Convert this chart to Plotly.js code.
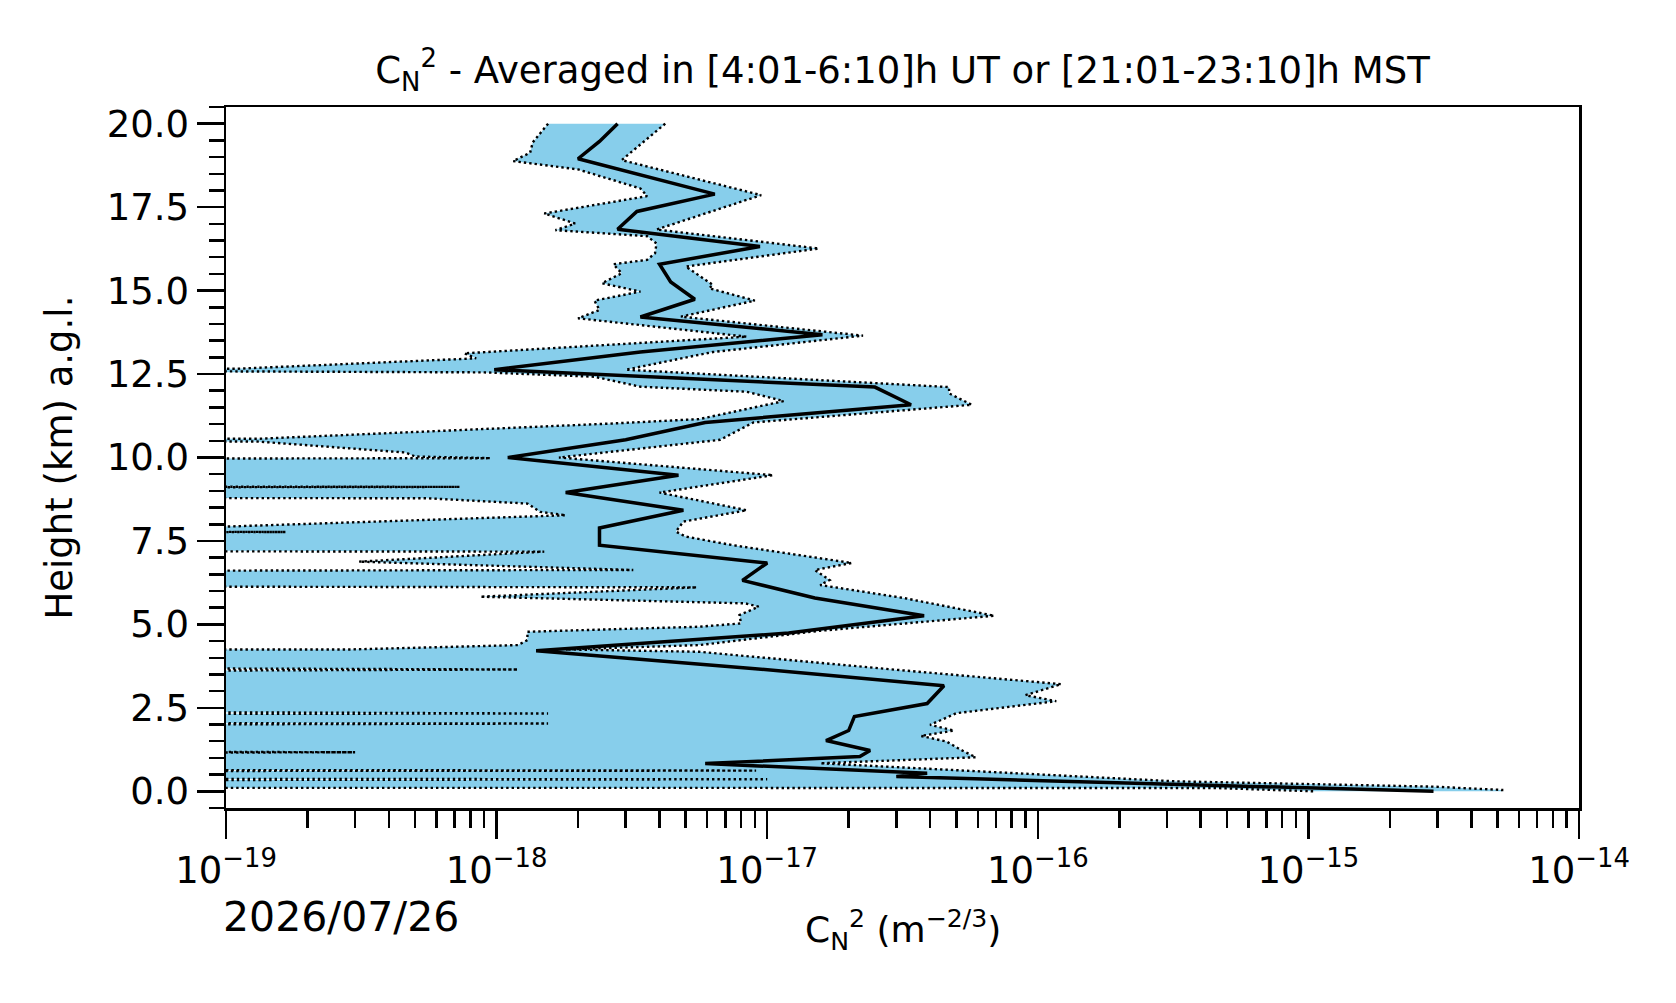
<!DOCTYPE html>
<html>
<head>
<meta charset="utf-8">
<script src="https://cdn.plot.ly/plotly-3.0.1.min.js"></script>
<style>
  html, body { margin: 0; padding: 0; background: #fff; }
  #chart { width: 1676px; height: 1003px; }
</style>
</head>
<body>
<div id="chart"></div>
<script>
// Cn2 profile: median plus lower/upper envelope.
// Heights in km a.g.l., Cn2 in m^-2/3. A lower value of 0 is a non-positive
// bound; it gets clipped to a tiny number like matplotlib's log axis does.

const H_MED = [20.0, 19.47, 18.95, 18.42, 17.89, 17.37, 16.84, 16.32, 15.79, 15.26,
  14.74, 14.21, 13.68, 13.16, 12.63, 12.11, 11.58, 11.05, 10.53, 10.0,
  9.47, 8.95, 8.42, 7.89, 7.37, 6.84, 6.32, 5.79, 5.26, 4.74,
  4.21, 3.68, 3.16, 2.63, 2.24, 1.82, 1.52, 1.22, 1.04, 0.83,
  0.54, 0.44, 0.0];
const C_MED = [2.8e-18, 2.4e-18, 2.0e-18, 3.6e-18, 6.4e-18, 3.3e-18, 2.8e-18, 9.4e-18, 4.0e-18, 4.4e-18,
  5.4e-18, 3.4e-18, 1.6e-17, 3.4e-18, 9.8e-19, 2.5e-17, 3.4e-17, 5.9e-18, 3.0e-18, 1.1e-18,
  4.7e-18, 1.8e-18, 4.9e-18, 2.4e-18, 2.4e-18, 1.0e-17, 8.1e-18, 1.5e-17, 3.8e-17, 1.2e-17,
  1.4e-18, 8.8e-18, 4.5e-17, 3.9e-17, 2.1e-17, 2.0e-17, 1.65e-17, 2.4e-17, 2.2e-17, 5.9e-18,
  3.9e-17, 3.0e-17, 2.9e-15];

const H_LOW = [20.0, 19.44, 19.13, 18.88, 18.63, 18.06, 17.83, 17.31, 17.01, 16.81,
  16.63, 16.41, 16.12, 15.92, 15.79, 15.52, 15.22, 14.97, 14.70, 14.42,
  14.17, 13.62, 13.12, 12.97, 12.66, 12.63, 12.58, 12.55, 12.42, 12.12,
  11.97, 11.69, 11.15, 11.02, 10.56, 10.52, 10.48, 10.15, 10.03, 9.98, 9.75,
  9.27, 9.12, 9.0, 8.88, 8.78, 8.62, 8.37, 8.27, 7.93, 7.88,
  7.77, 7.70, 7.33, 7.18, 6.88, 6.63, 6.35, 6.11, 5.83, 5.63,
  5.53, 5.28, 5.03, 4.93, 4.78, 4.53, 4.38, 4.25, 4.22, 3.65,
  3.0, 2.33, 2.18, 2.03, 1.6, 1.17, 0.8, 0.62, 0.5, 0.36,
  0.12, 0.10, 0.0];
const C_LOW = [1.55e-18, 1.36e-18, 1.33e-18, 1.15e-18, 2.0e-18, 3.4e-18, 3.6e-18, 1.5e-18, 1.95e-18, 1.65e-18,
  3.6e-18, 3.9e-18, 3.85e-18, 3.6e-18, 2.7e-18, 2.9e-18, 2.45e-18, 3.4e-18, 2.3e-18, 2.4e-18,
  2.0e-18, 8.4e-18, 7.6e-19, 8.4e-19, 1.1e-19, 0, 1.0e-19, 9.0e-19, 2.3e-18, 3.4e-18,
  8.4e-18, 1.15e-17, 5.6e-18, 2.7e-18, 1.3e-19, 0, 1.3e-19, 4.6e-19, 5.0e-19, 9.5e-19, 0,
  0, 7.3e-19, 0, 0, 5.5e-19, 1.3e-18, 1.45e-18, 1.8e-18, 1.0e-19, 0,
  1.66e-19, 0, 0, 1.5e-18, 3.1e-19, 3.2e-18, 0, 5.5e-18, 8.7e-19, 8.3e-18,
  9.3e-18, 7.9e-18, 8.0e-18, 5.6e-18, 1.3e-18, 1.3e-18, 1.2e-18, 2.9e-19, 0, 1.2e-18,
  0, 1.55e-18, 0, 1.55e-18, 0, 3.0e-19, 0, 9.1e-18, 0, 1.0e-17,
  0, 4.5e-16, 1.05e-15];

const H_UP = [20.0, 18.91, 17.86, 16.83, 16.26, 15.72, 15.17, 15.07, 14.70, 14.22,
  13.65, 13.16, 12.63, 12.11, 11.92, 11.58, 11.05, 10.53, 10.0, 9.47,
  8.95, 8.42, 8.08, 7.78, 7.63, 7.37, 6.84, 6.63, 6.33, 6.18,
  5.79, 5.26, 4.81, 4.38, 4.25, 4.18, 3.63, 3.21, 2.88, 2.70,
  2.34, 1.99, 1.82, 1.66, 1.49, 1.24, 1.02, 0.84, 0.56, 0.30,
  0.14, 0.04, 0.0];
const C_UP = [4.2e-18, 2.9e-18, 9.5e-18, 3.9e-18, 1.55e-17, 5.0e-18, 6.3e-18, 6.1e-18, 9.0e-18, 4.8e-18,
  2.26e-17, 6.3e-18, 3.0e-18, 4.7e-17, 4.7e-17, 5.7e-17, 8.9e-18, 6.7e-18, 1.7e-18, 1.05e-17,
  4.0e-18, 8.4e-18, 4.9e-18, 4.6e-18, 5.0e-18, 7.5e-18, 2.05e-17, 1.5e-17, 1.7e-17, 1.57e-17,
  3.2e-17, 6.9e-17, 1.57e-17, 5.6e-18, 1.8e-18, 5.6e-18, 3.1e-17, 1.22e-16, 9.0e-17, 1.17e-16,
  5.0e-17, 4.0e-17, 4.9e-17, 3.7e-17, 4.6e-17, 5.2e-17, 5.9e-17, 1.57e-17, 7.5e-17, 3.2e-16,
  2.9e-15, 5.2e-15, 5.2e-15];

const X_TICKS = [1e-19, 1e-18, 1e-17, 1e-16, 1e-15, 1e-14];
const X_TICKTEXT = ["10<sup>\u221219</sup>", "10<sup>\u221218</sup>", "10<sup>\u221217</sup>",
  "10<sup>\u221216</sup>", "10<sup>\u221215</sup>", "10<sup>\u221214</sup>"];
const Y_TICKS = [0, 2.5, 5, 7.5, 10, 12.5, 15, 17.5, 20];
const Y_TICKTEXT = ["0.0", "2.5", "5.0", "7.5", "10.0", "12.5", "15.0", "17.5", "20.0"];

const TITLE = "C<sub>N</sub><sup>2</sup> - Averaged in [4:01-6:10]h UT or [21:01-23:10]h MST";
const XLABEL = "C<sub>N</sub><sup>2</sup> (m<sup>\u22122/3</sup>)";
const YLABEL = "Height (km) a.g.l.";
const DATE = "2026/07/26";

const FILL = "#87CEEB";
const FONT = "DejaVu Sans, Liberation Sans, sans-serif";
const CLIP = 1e-40;   // stand-in for non-positive values on the log axis

const lowX = C_LOW.map((v) => (v > 0 ? v : CLIP));

// envelope polygon: upper edge top->bottom, then lower edge bottom->top
const polyX = C_UP.concat(lowX.slice().reverse());
const polyY = H_UP.concat(H_LOW.slice().reverse());

// minor ticks 2..9 x each decade
const xMinor = [];
for (let e = -19; e < -14; e++) {
  for (let m = 2; m <= 9; m++) xMinor.push(m * Math.pow(10, e));
}

const DOTTED = { color: "#000", width: 2.4, dash: "2.4px,3px" };

const traces = [
  {
    x: polyX, y: polyY, mode: "lines", fill: "toself", fillcolor: FILL,
    line: { width: 0, color: FILL }, hoverinfo: "skip", showlegend: false,
  },
  { x: lowX, y: H_LOW, mode: "lines", line: DOTTED, hoverinfo: "skip", showlegend: false },
  { x: C_UP, y: H_UP, mode: "lines", line: DOTTED, hoverinfo: "skip", showlegend: false },
  {
    x: C_MED, y: H_MED, mode: "lines",
    line: { color: "#000", width: 3.5 },
    hoverinfo: "skip", showlegend: false,
  },
];

const axisCommon = {
  showline: true, mirror: true, linecolor: "#000", linewidth: 2.5,
  ticks: "outside", tickcolor: "#000", tickwidth: 2.5,
  showgrid: false, zeroline: false,
  tickfont: { family: FONT, size: 37, color: "#000" },
};

const layout = {
  width: 1676, height: 1003,
  paper_bgcolor: "#fff", plot_bgcolor: "#fff",
  margin: { l: 226, r: 97, t: 107, b: 195 },
  font: { family: FONT, color: "#000" },
  title: {
    text: TITLE, font: { family: FONT, size: 37, color: "#000" },
    xref: "paper", x: 0.5, xanchor: "center",
    yref: "container", y: 1 - 70 / 1003, yanchor: "middle",
  },
  xaxis: Object.assign({}, axisCommon, {
    type: "log", range: [-19, -14],
    tickmode: "array", tickvals: X_TICKS, ticktext: X_TICKTEXT, ticklen: 28,
    minor: { tickmode: "array", tickvals: xMinor, ticks: "outside", ticklen: 17,
             tickcolor: "#000", tickwidth: 2.5 },
  }),
  yaxis: Object.assign({}, axisCommon, {
    range: [-0.5, 20.5],
    tickmode: "array", tickvals: Y_TICKS, ticktext: Y_TICKTEXT, ticklen: 27,
    minor: { dtick: 0.5, tick0: 0, ticks: "outside", ticklen: 15,
             tickcolor: "#000", tickwidth: 2.5 },
  }),
  annotations: [
    {
      text: XLABEL, xref: "paper", yref: "paper", x: 0.5, y: (808 - 930) / 701,
      xanchor: "center", yanchor: "middle", showarrow: false,
      font: { family: FONT, size: 36, color: "#000" },
    },
    {
      text: YLABEL, xref: "paper", yref: "paper", x: (59 - 226) / 1353, y: 0.5,
      xanchor: "center", yanchor: "middle", showarrow: false, textangle: -90,
      font: { family: FONT, size: 37, color: "#000" },
    },
    {
      text: DATE, xref: "paper", yref: "paper", x: -5 / 1353, y: (808 - 917) / 701,
      xanchor: "left", yanchor: "middle", showarrow: false,
      font: { family: FONT, size: 41, color: "#000" },
    },
  ],
};

Plotly.newPlot("chart", traces, layout, { displayModeBar: false, staticPlot: true });
</script>
</body>
</html>
